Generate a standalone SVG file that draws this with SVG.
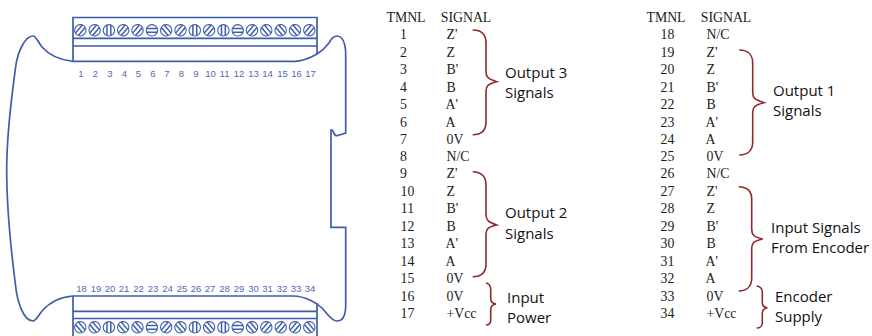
<svg xmlns="http://www.w3.org/2000/svg" xmlns:xlink="http://www.w3.org/1999/xlink" width="872" height="336" viewBox="0 0 872 336">
<style>
.b{fill:none;stroke:#3f5dab;stroke-width:1.7}
.s{fill:none;stroke:#3f5dab;stroke-width:1.1}
.st{fill:none;stroke:#3f5dab;stroke-width:1.5}
.n{font:9.5px "Liberation Sans",Arial,sans-serif;fill:#4f69b2;text-anchor:middle}
.t{font:13.8px "Liberation Serif","Times New Roman",serif;fill:#1c1c1c;text-anchor:middle}
.g{font:13.8px "Liberation Serif","Times New Roman",serif;fill:#1c1c1c}
.l{font:15px "Open Sans","Liberation Sans",sans-serif;fill:#111}
.br{fill:none;stroke:#8c2a2e;stroke-width:1.6}
</style>
<defs>
<g id="sc"><circle r="5.7" class="s"/><path d="M-1.9-5.3V5.300M1.900-5.300V5.300" class="st"/></g>
</defs>
<rect width="872" height="336" fill="#fff"/>
<g id="device">
<path class="b" d="M73 61.300C59 60 49 55 42 47C38 42 36 36 33 36C29 36 25 40 22 46C18 53 16.500 60 15.500 68C12 95 6.700 130 6.700 170C6.700 210 11 250 15.500 285C17 300 23 321 33 321C36 321 38 316 42 311C49 303 60 297 73 296"/>
<path class="b" d="M293 61.700C303 61 312 57 317 54C322 51 326 47 329 43C331 39 334 36 337 36C342 36 344 41 345 46C345.500 49 345.700 52 345.700 55V133L337 135.700C333 136 334 129 331 130V227.300H345.700V305C345.700 316 342 321 337 321C331 321 327 313 322 308C318 304 306 296 293 296"/>
<path class="b" d="M73 61.300V17.500H317V54M73 38.300H317M73 46H317M73 61.300H293"/>
<path class="b" d="M73 296V336M317 303V336M73 296H293M73 311.300H317M73 318.500H317"/>
</g>
<g id="screws-top">
<use xlink:href="#sc" transform="translate(80.300 30.300) rotate(40)"/>
<use xlink:href="#sc" transform="translate(94.600 30.300) rotate(40)"/>
<use xlink:href="#sc" transform="translate(108.900 30.300)"/>
<use xlink:href="#sc" transform="translate(123.200 30.300) rotate(40)"/>
<use xlink:href="#sc" transform="translate(137.500 30.300) rotate(40)"/>
<use xlink:href="#sc" transform="translate(151.900 30.300) rotate(90)"/>
<use xlink:href="#sc" transform="translate(166.200 30.300) rotate(-40)"/>
<use xlink:href="#sc" transform="translate(180.500 30.300) rotate(40)"/>
<use xlink:href="#sc" transform="translate(194.800 30.300)"/>
<use xlink:href="#sc" transform="translate(209.100 30.300) rotate(40)"/>
<use xlink:href="#sc" transform="translate(223.400 30.300)"/>
<use xlink:href="#sc" transform="translate(237.700 30.300) rotate(90)"/>
<use xlink:href="#sc" transform="translate(252 30.300) rotate(40)"/>
<use xlink:href="#sc" transform="translate(266.300 30.300) rotate(-40)"/>
<use xlink:href="#sc" transform="translate(280.700 30.300) rotate(-40)"/>
<use xlink:href="#sc" transform="translate(295 30.300) rotate(-40)"/>
<use xlink:href="#sc" transform="translate(309.300 30.300) rotate(40)"/>
</g>
<g id="screws-bottom">
<use xlink:href="#sc" transform="translate(80.300 327.300) rotate(-40)"/>
<use xlink:href="#sc" transform="translate(94.600 327.300) rotate(-40)"/>
<use xlink:href="#sc" transform="translate(108.900 327.300)"/>
<use xlink:href="#sc" transform="translate(123.200 327.300) rotate(-40)"/>
<use xlink:href="#sc" transform="translate(137.500 327.300) rotate(-40)"/>
<use xlink:href="#sc" transform="translate(151.900 327.300) rotate(90)"/>
<use xlink:href="#sc" transform="translate(166.200 327.300) rotate(40)"/>
<use xlink:href="#sc" transform="translate(180.500 327.300) rotate(-40)"/>
<use xlink:href="#sc" transform="translate(194.800 327.300)"/>
<use xlink:href="#sc" transform="translate(209.100 327.300) rotate(-40)"/>
<use xlink:href="#sc" transform="translate(223.400 327.300)"/>
<use xlink:href="#sc" transform="translate(237.700 327.300) rotate(90)"/>
<use xlink:href="#sc" transform="translate(252 327.300) rotate(-40)"/>
<use xlink:href="#sc" transform="translate(266.300 327.300) rotate(40)"/>
<use xlink:href="#sc" transform="translate(280.700 327.300) rotate(40)"/>
<use xlink:href="#sc" transform="translate(295 327.300) rotate(40)"/>
<use xlink:href="#sc" transform="translate(309.300 327.300) rotate(-40)"/>
</g>
<g id="terminal-numbers">
<text class="n" x="81" y="77">1</text><text class="n" x="95.500" y="77">2</text><text class="n" x="110" y="77">3</text><text class="n" x="124.500" y="77">4</text><text class="n" x="138.500" y="77">5</text><text class="n" x="153" y="77">6</text><text class="n" x="167" y="77">7</text><text class="n" x="181.500" y="77">8</text><text class="n" x="196" y="77">9</text><text class="n" x="210.500" y="77">10</text><text class="n" x="224.500" y="77">11</text><text class="n" x="239" y="77">12</text><text class="n" x="253.500" y="77">13</text><text class="n" x="267.500" y="77">14</text><text class="n" x="282.500" y="77">15</text><text class="n" x="296.500" y="77">16</text><text class="n" x="310.500" y="77">17</text>
<text class="n" x="81.500" y="292">18</text><text class="n" x="96" y="292">19</text><text class="n" x="110" y="292">20</text><text class="n" x="124" y="292">21</text><text class="n" x="138.500" y="292">22</text><text class="n" x="153" y="292">23</text><text class="n" x="167.500" y="292">24</text><text class="n" x="182" y="292">25</text><text class="n" x="196" y="292">26</text><text class="n" x="210" y="292">27</text><text class="n" x="224.500" y="292">28</text><text class="n" x="239" y="292">29</text><text class="n" x="253.500" y="292">30</text><text class="n" x="267.500" y="292">31</text><text class="n" x="282" y="292">32</text><text class="n" x="296" y="292">33</text><text class="n" x="310" y="292">34</text>
</g>
<g id="table-left">
<text class="t" x="406" y="22">TMNL</text><text class="t" x="466" y="22">SIGNAL</text>
<text class="t" x="403.500" y="39">1</text><text class="g" x="446.500" y="39">Z'</text>
<text class="t" x="403.500" y="56.500">2</text><text class="g" x="446.500" y="56.500">Z</text>
<text class="t" x="403.500" y="74">3</text><text class="g" x="446.500" y="74">B'</text>
<text class="t" x="403.500" y="91.500">4</text><text class="g" x="446.500" y="91.500">B</text>
<text class="t" x="403.500" y="109">5</text><text class="g" x="445.500" y="109">A'</text>
<text class="t" x="403.500" y="126.500">6</text><text class="g" x="445.500" y="126.500">A</text>
<text class="t" x="403.500" y="144">7</text><text class="g" x="446.500" y="144">0V</text>
<text class="t" x="403.500" y="161">8</text><text class="g" x="446.500" y="161">N/C</text>
<text class="t" x="403.500" y="178">9</text><text class="g" x="446.500" y="178">Z'</text>
<text class="t" x="407.500" y="195.500">10</text><text class="g" x="446.500" y="195.500">Z</text>
<text class="t" x="407.500" y="213">11</text><text class="g" x="446.500" y="213">B'</text>
<text class="t" x="407.500" y="230.500">12</text><text class="g" x="446.500" y="230.500">B</text>
<text class="t" x="407.500" y="248">13</text><text class="g" x="445.500" y="248">A'</text>
<text class="t" x="407.500" y="265.500">14</text><text class="g" x="445.500" y="265.500">A</text>
<text class="t" x="407.500" y="283">15</text><text class="g" x="446.500" y="283">0V</text>
<text class="t" x="407.500" y="300.500">16</text><text class="g" x="446.500" y="300.500">0V</text>
<text class="t" x="407.500" y="318">17</text><text class="g" x="446.500" y="318">+Vcc</text>
</g>
<g id="table-right">
<text class="t" x="666" y="22">TMNL</text><text class="t" x="726" y="22">SIGNAL</text>
<text class="t" x="667.500" y="39">18</text><text class="g" x="706.500" y="39">N/C</text>
<text class="t" x="667.500" y="56.500">19</text><text class="g" x="706.500" y="56.500">Z'</text>
<text class="t" x="667.500" y="74">20</text><text class="g" x="706.500" y="74">Z</text>
<text class="t" x="667.500" y="91.500">21</text><text class="g" x="706.500" y="91.500">B'</text>
<text class="t" x="667.500" y="109">22</text><text class="g" x="706.500" y="109">B</text>
<text class="t" x="667.500" y="126.500">23</text><text class="g" x="705.500" y="126.500">A'</text>
<text class="t" x="667.500" y="144">24</text><text class="g" x="705.500" y="144">A</text>
<text class="t" x="667.500" y="161">25</text><text class="g" x="706.500" y="161">0V</text>
<text class="t" x="667.500" y="178">26</text><text class="g" x="706.500" y="178">N/C</text>
<text class="t" x="667.500" y="195.500">27</text><text class="g" x="706.500" y="195.500">Z'</text>
<text class="t" x="667.500" y="213">28</text><text class="g" x="706.500" y="213">Z</text>
<text class="t" x="667.500" y="230.500">29</text><text class="g" x="706.500" y="230.500">B'</text>
<text class="t" x="667.500" y="248">30</text><text class="g" x="706.500" y="248">B</text>
<text class="t" x="667.500" y="265.500">31</text><text class="g" x="705.500" y="265.500">A'</text>
<text class="t" x="667.500" y="283">32</text><text class="g" x="705.500" y="283">A</text>
<text class="t" x="667.500" y="300.500">33</text><text class="g" x="706.500" y="300.500">0V</text>
<text class="t" x="667.500" y="318">34</text><text class="g" x="706.500" y="318">+Vcc</text>
</g>
<g id="connectors">
<path class="br" d="M472.700 30C482 30 486 35 486 43V72C486 77 488 79 496.700 81.700C488 84 486 86 486 91V122C486 130 482 134.700 472.700 134.700"/>
<path class="br" d="M472.700 171.700C482 172 486 177 486 185V214C486 220 488 222 496.700 225C488 227 486 229 486 234V264C486 272 482 276.700 472.700 276.700"/>
<path class="br" d="M486 283C489 284 490.700 285 490.700 289V298C490.700 302 492 303 496 304C492 305 490.700 306 490.700 310V320C490.700 323 489 325 486 325"/>
<path class="br" d="M739.300 50C748 50 752.700 55 752.700 63V93C752.700 98 755 100 764 102.700C755 105 752.700 107 752.700 112V142C752.700 150 748 155 739.300 155"/>
<path class="br" d="M738.700 186.700C747 187 751.700 191 751.700 199V229C751.700 235 754 237 762.700 239C754 241 751.700 243 751.700 248V278C751.700 286 747 291 738.700 291"/>
<path class="br" d="M756.700 286C760 286.500 762.300 288 762.300 292V302C762.300 306 763.500 307 767.300 307.700C763.500 308.500 762.300 310 762.300 313V323C762.300 326 760 328 756.700 328"/>
</g>
<g id="labels">
<text class="l" x="505" y="78">Output 3</text><text class="l" x="505" y="98">Signals</text>
<text class="l" x="505" y="218">Output 2</text><text class="l" x="505" y="239">Signals</text>
<text class="l" x="507" y="303">Input</text><text class="l" x="507" y="323">Power</text>
<text class="l" x="773" y="96">Output 1</text><text class="l" x="773" y="116">Signals</text>
<text class="l" x="771" y="233">Input Signals</text><text class="l" x="771" y="253">From Encoder</text>
<text class="l" x="775" y="302">Encoder</text><text class="l" x="775" y="322">Supply</text>
</g>
</svg>
